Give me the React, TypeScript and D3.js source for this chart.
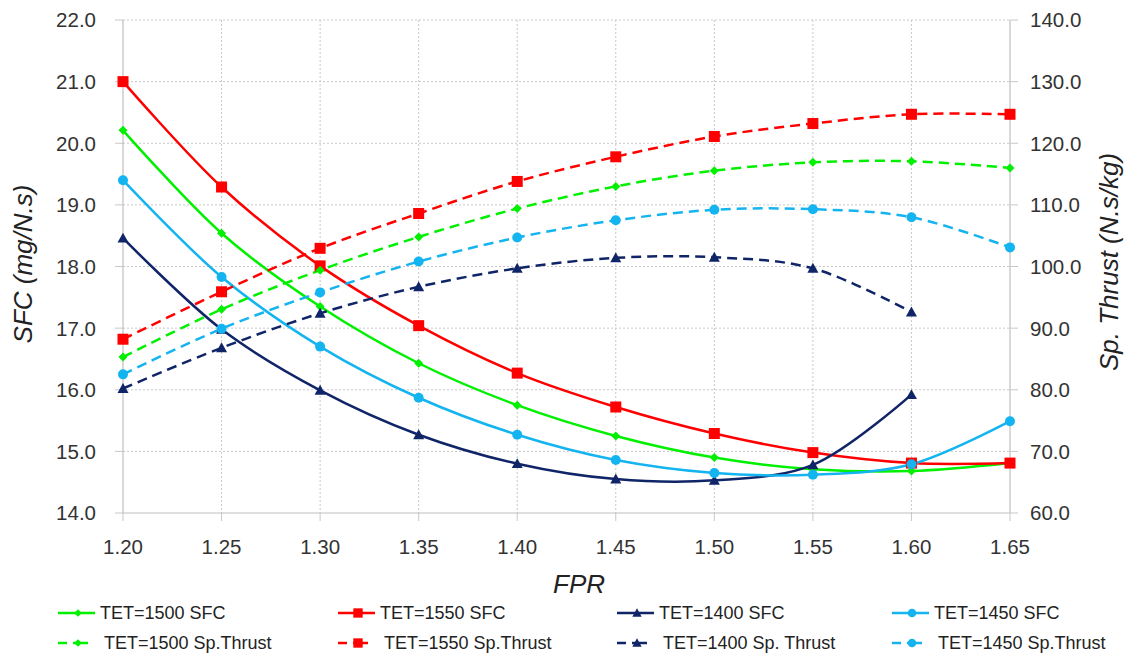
import React from "react";
import * as d3 from "d3";

const FPR = [1.2, 1.25, 1.3, 1.35, 1.4, 1.45, 1.5, 1.55, 1.6, 1.65];

const sfc1500 = [20.21, 18.54, 17.35, 16.43, 15.75, 15.25, 14.9, 14.71, 14.68, 14.81];
const sfc1550 = [21.0, 19.29, 18.01, 17.04, 16.27, 15.72, 15.29, 14.98, 14.81, 14.81];
const sfc1400 = [18.46, 16.98, 15.99, 15.27, 14.8, 14.55, 14.53, 14.78, 15.92];
const sfc1450 = [19.4, 17.83, 16.7, 15.87, 15.27, 14.86, 14.65, 14.62, 14.79, 15.49];

const thr1500 = [85.3, 93.05, 99.4, 104.8, 109.4, 113.0, 115.55, 116.9, 117.07, 116.0];
const thr1550 = [88.2, 95.9, 102.95, 108.6, 113.8, 117.8, 121.1, 123.2, 124.7, 124.7];
const thr1400 = [80.2, 86.8, 92.4, 96.7, 99.7, 101.4, 101.5, 99.7, 92.6];
const thr1450 = [82.5, 89.9, 95.8, 100.8, 104.7, 107.5, 109.2, 109.3, 108.0, 103.1];

const leftTicks = [14, 15, 16, 17, 18, 19, 20, 21, 22];
const rightTicks = [60, 70, 80, 90, 100, 110, 120, 130, 140];

type Marker = "diamond" | "square" | "triangle" | "circle";

interface Series {
  name: string;
  values: number[];
  axis: "L" | "R";
  color: string;
  marker: Marker;
  dashed: boolean;
}

const GREEN = "#00F000";
const RED = "#FF0000";
const NAVY = "#102468";
const BLUE = "#14B4F0";

const series: Series[] = [
  { name: "TET=1500 SFC", values: sfc1500, axis: "L", color: GREEN, marker: "diamond", dashed: false },
  { name: "TET=1550 SFC", values: sfc1550, axis: "L", color: RED, marker: "square", dashed: false },
  { name: "TET=1400 SFC", values: sfc1400, axis: "L", color: NAVY, marker: "triangle", dashed: false },
  { name: "TET=1450 SFC", values: sfc1450, axis: "L", color: BLUE, marker: "circle", dashed: false },
  { name: "TET=1500 Sp.Thrust", values: thr1500, axis: "R", color: GREEN, marker: "diamond", dashed: true },
  { name: "TET=1550 Sp.Thrust", values: thr1550, axis: "R", color: RED, marker: "square", dashed: true },
  { name: "TET=1400 Sp. Thrust", values: thr1400, axis: "R", color: NAVY, marker: "triangle", dashed: true },
  { name: "TET=1450 Sp.Thrust", values: thr1450, axis: "R", color: BLUE, marker: "circle", dashed: true },
];

const X0 = 123, X1 = 1010, Y0 = 513, Y1 = 20;
const FONT = "'Liberation Sans', Arial, sans-serif";
const TXT = "#333";

function MarkerShape({ type, x, y, color, s = 1 }: { type: Marker; x: number; y: number; color: string; s?: number }) {
  if (type === "square") {
    const h = 5.5 * s;
    return <rect x={x - h} y={y - h} width={2 * h} height={2 * h} fill={color} />;
  }
  if (type === "diamond") {
    const h = 4.5 * s;
    return <path d={`M${x},${y - h}L${x + h},${y}L${x},${y + h}L${x - h},${y}Z`} fill={color} />;
  }
  if (type === "triangle") {
    const h = 5.5 * s;
    return <path d={`M${x},${y - h}L${x + h},${y + h * 0.8}L${x - h},${y + h * 0.8}Z`} fill={color} />;
  }
  return <circle cx={x} cy={y} r={5 * s} fill={color} />;
}

export default function App() {
  const x = d3.scaleLinear().domain([1.2, 1.65]).range([X0, X1]);
  const yL = d3.scaleLinear().domain([14, 22]).range([Y0, Y1]);
  const yR = d3.scaleLinear().domain([60, 140]).range([Y0, Y1]);

  const line = (sc: d3.ScaleLinear<number, number>) =>
    d3
      .line<[number, number]>()
      .x((d) => x(d[0]))
      .y((d) => sc(d[1]))
      .curve(d3.curveCatmullRom.alpha(0.5));

  const legendCols = [58, 338, 617, 892];
  const legendRows = [613, 643];
  // legend order by column: [SFC, Thrust] pairs
  const legendItems = [
    [series[0], series[4]],
    [series[1], series[5]],
    [series[2], series[6]],
    [series[3], series[7]],
  ];

  return (
    <svg width={1130} height={657} style={{ position: "absolute", left: 0, top: 0, background: "#fff" }} fontFamily={FONT}>
      <rect width={1130} height={657} fill="#fff" />
      {/* horizontal grid */}
      {leftTicks.map((t) => (
        <g key={"h" + t}>
          {t !== 14 && (
            <line x1={X0} x2={X1} y1={yL(t)} y2={yL(t)} stroke="#c8c8c8" strokeWidth={1} strokeDasharray="2 2" />
          )}
          <line x1={X0 - 8} x2={X0} y1={yL(t)} y2={yL(t)} stroke="#c8c8c8" strokeWidth={1} />
          <line x1={X1} x2={X1 + 8} y1={yL(t)} y2={yL(t)} stroke="#c8c8c8" strokeWidth={1} />
          <text x={96} y={yL(t)} dy="0.36em" textAnchor="end" fontSize={20.5} fill={TXT}>
            {t.toFixed(1)}
          </text>
        </g>
      ))}
      {rightTicks.map((t) => (
        <text key={"r" + t} x={1030} y={yR(t)} dy="0.36em" textAnchor="start" fontSize={20.5} fill={TXT}>
          {t.toFixed(1)}
        </text>
      ))}
      {/* vertical grid */}
      {FPR.map((f, i) => (
        <g key={"v" + f}>
          {i !== 0 && i !== FPR.length - 1 && (
            <line x1={x(f)} x2={x(f)} y1={Y1} y2={Y0} stroke="#c8c8c8" strokeWidth={1} strokeDasharray="2 2" />
          )}
          <line x1={x(f)} x2={x(f)} y1={Y0} y2={Y0 + 8} stroke="#c8c8c8" strokeWidth={1} />
          <text x={x(f)} y={554} textAnchor="middle" fontSize={20.5} fill={TXT}>
            {f.toFixed(2)}
          </text>
        </g>
      ))}
      {/* axes */}
      <line x1={X0} x2={X0} y1={Y1} y2={Y0} stroke="#c0c0c0" strokeWidth={1.2} />
      <line x1={X1} x2={X1} y1={Y1} y2={Y0} stroke="#c0c0c0" strokeWidth={1.2} />
      <line x1={X0} x2={X1} y1={Y0} y2={Y0} stroke="#c0c0c0" strokeWidth={1.2} />

      {/* series lines */}
      {series.map((s) => {
        const sc = s.axis === "L" ? yL : yR;
        const pts = s.values.map((v, i) => [FPR[i], v] as [number, number]);
        return (
          <path
            key={"l" + s.name}
            d={line(sc)(pts) || ""}
            fill="none"
            stroke={s.color}
            strokeWidth={2.5}
            strokeDasharray={s.dashed ? "10 6" : undefined}
          />
        );
      })}
      {/* markers */}
      {series.map((s) => {
        const sc = s.axis === "L" ? yL : yR;
        return (
          <g key={"m" + s.name}>
            {s.values.map((v, i) => (
              <MarkerShape key={i} type={s.marker} x={x(FPR[i])} y={sc(v)} color={s.color} />
            ))}
          </g>
        );
      })}

      {/* axis titles */}
      <text x={579} y={593} textAnchor="middle" fontSize={26} fontStyle="italic" fill="#222">
        FPR
      </text>
      <text
        transform="translate(32,264) rotate(-90)"
        textAnchor="middle"
        fontSize={26}
        fontStyle="italic"
        fill="#222"
      >
        SFC (mg/N.s)
      </text>
      <text
        transform="translate(1118,262) rotate(-90)"
        textAnchor="middle"
        fontSize={26}
        fontStyle="italic"
        fill="#222"
      >
        Sp. Thrust (N.s/kg)
      </text>

      {/* legend */}
      {legendItems.map((pair, c) =>
        pair.map((s, r) => {
          const lx = legendCols[c];
          const ly = legendRows[r];
          return (
            <g key={"lg" + s.name}>
              {s.dashed ? (
                <>
                  <line x1={lx} x2={lx + 9} y1={ly} y2={ly} stroke={s.color} strokeWidth={2.5} />
                  <line x1={lx + 15} x2={lx + 30} y1={ly} y2={ly} stroke={s.color} strokeWidth={2.5} />
                </>
              ) : (
                <line x1={lx} x2={lx + 37} y1={ly} y2={ly} stroke={s.color} strokeWidth={2.5} />
              )}
              <MarkerShape type={s.marker} x={lx + 20} y={ly} color={s.color} s={0.85} />
              <text x={lx + (s.dashed ? 46 : 42)} y={ly} dy="0.36em" fontSize={18} fill="#222">
                {s.name}
              </text>
            </g>
          );
        })
      )}
    </svg>
  );
}
